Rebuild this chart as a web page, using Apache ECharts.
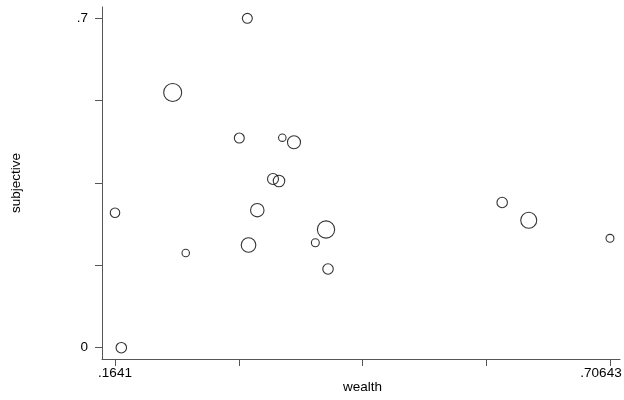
<!DOCTYPE html>
<html>
<head>
<meta charset="utf-8">
<script src="https://cdn.jsdelivr.net/npm/echarts@6/dist/echarts.min.js"></script>
<style>
html,body{margin:0;padding:0;background:#fff;}
#main{width:624px;height:400px;}
</style>
</head>
<body>
<div id="main"></div>
<script>
// Data
const wealth     = [0.3091, 0.2273, 0.3003, 0.3474, 0.3602, 0.3372, 0.3438, 0.1641, 0.3200, 0.2416, 0.3104, 0.3836, 0.3953, 0.3975, 0.5883, 0.6174, 0.70643, 0.1710];
const subjective = [0.7000, 0.5423, 0.4456, 0.4463, 0.4365, 0.3585, 0.3543, 0.2867, 0.2922, 0.2012, 0.2182, 0.2231, 0.2512, 0.1672, 0.3086, 0.2707, 0.2325, 0.0000];
const weight     = [0.80, 2.90, 0.80, 0.42, 1.45, 1.00, 1.10, 0.72, 1.55, 0.42, 1.85, 0.48, 2.65, 0.90, 0.90, 2.25, 0.48, 0.90];
const xTickLabels = ['.1641', '', '', '', '.70643'];
const yTickLabels = ['0', '', '', '', '.7'];
const xTitle = 'wealth';
const yTitle = 'subjective';

const xMin = 0.1641, xMax = 0.70643;
const yMin = 0, yMax = 0.7;

const font = "'Liberation Sans', Arial, Helvetica, sans-serif";
const axisColor = '#555555';
const hidden = {axisLine: {show: false}, axisTick: {show: false}, axisLabel: {show: false}, splitLine: {show: false}};

const chart = echarts.init(document.getElementById('main'), null, {renderer: 'canvas'});
chart.setOption({
  animation: false,
  backgroundColor: '#ffffff',
  textStyle: {fontFamily: font},
  grid: [
    // axis lines frame
    {left: 102, right: 4, top: 7, bottom: 41, containLabel: false, outerBoundsMode: 'none'},
    // data + y ticks
    {left: 115, right: 14, top: 18.3, bottom: 52.3, containLabel: false, outerBoundsMode: 'none'},
    // x ticks
    {left: 115, right: 14, top: 7, bottom: 41, containLabel: false, outerBoundsMode: 'none'}
  ],
  xAxis: [
    {
      type: 'value', gridIndex: 0, min: 0, max: 1,
      axisLine: {show: true, lineStyle: {color: axisColor, width: 1}},
      axisTick: {show: false}, axisLabel: {show: false}, splitLine: {show: false}
    },
    Object.assign({type: 'value', gridIndex: 1, min: xMin, max: xMax}, hidden),
    {
      type: 'value', gridIndex: 2, min: xMin, max: xMax,
      interval: (xMax - xMin) / 4,
      axisLine: {show: false},
      axisTick: {show: true, length: 7, lineStyle: {color: axisColor, width: 1}},
      splitLine: {show: false},
      axisLabel: {
        show: true, margin: 7, color: '#000', fontSize: 13.5, fontFamily: font,
        showMinLabel: true, showMaxLabel: true,
        formatter: function (v, i) {
          const t = xTickLabels[i] || '';
          if (i === xTickLabels.length - 1 && t) return '{r|' + t + '}';
          return t;
        },
        rich: {r: {fontSize: 13.5, fontFamily: font, color: '#000', padding: [0, 18, 0, 0]}}
      },
      name: xTitle, nameLocation: 'middle', nameGap: 21, nameMoveOverlap: false,
      nameTextStyle: {color: '#000', fontSize: 13.5, fontFamily: font}
    }
  ],
  yAxis: [
    {
      type: 'value', gridIndex: 0, min: 0, max: 1,
      axisLine: {show: true, lineStyle: {color: axisColor, width: 1}},
      axisTick: {show: false}, axisLabel: {show: false}, splitLine: {show: false}
    },
    {
      type: 'value', gridIndex: 1, min: yMin, max: yMax,
      interval: 0.175,
      offset: 13,
      axisLine: {show: false},
      axisTick: {show: true, length: 7, lineStyle: {color: axisColor, width: 1}},
      splitLine: {show: false},
      axisLabel: {
        show: true, margin: 14, color: '#000', fontSize: 13.5, fontFamily: font,
        showMinLabel: true, showMaxLabel: true,
        formatter: function (v, i) { return yTickLabels[i] || ''; }
      },
      name: yTitle, nameLocation: 'middle', nameGap: 79, nameRotate: 90,
      nameTextStyle: {color: '#000', fontSize: 13.5, fontFamily: font}
    },
    Object.assign({type: 'value', gridIndex: 2, min: yMin, max: yMax}, hidden)
  ],
  series: [{
    type: 'scatter',
    xAxisIndex: 1, yAxisIndex: 1,
    clip: false,
    data: wealth.map((x, i) => [x, subjective[i], weight[i]]),
    symbol: 'circle',
    symbolSize: function (d) { return Math.sqrt(d[2]) * 10 + 1; },
    itemStyle: {color: 'rgba(0,0,0,0)', borderColor: '#000', borderWidth: 1.1},
    emphasis: {disabled: true}
  }]
});
</script>
</body>
</html>
